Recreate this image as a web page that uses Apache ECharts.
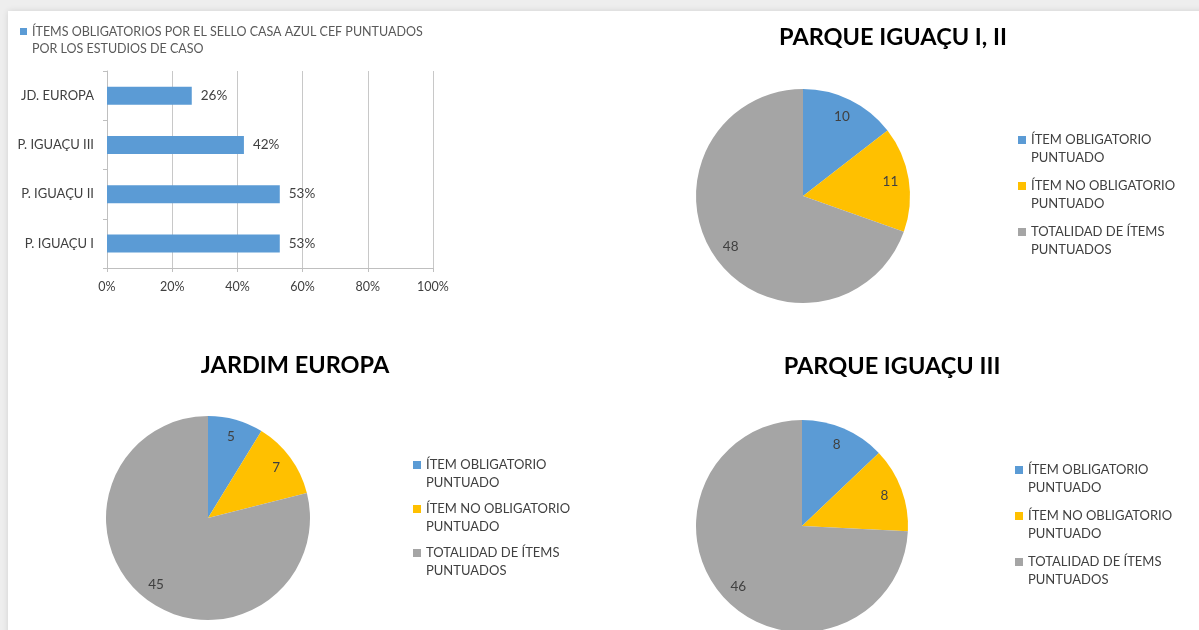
<!DOCTYPE html>
<html>
<head>
<meta charset="utf-8">
<script src="https://cdn.jsdelivr.net/npm/echarts@6/dist/echarts.min.js"></script>
<style>
  html, body { margin: 0; padding: 0; background: #eeeeee; }
  #chart_view { width: 1199px; height: 630px; }
</style>
</head>
<body>
<div id="chart_view"></div>
<script>
// bar chart data (bottom to top, as the category axis draws them)
var barCategories = ['P. IGUAÇU I', 'P. IGUAÇU II', 'P. IGUAÇU III', 'JD. EUROPA'];
var barValues = [53, 53, 42, 26];
var barSeriesName = 'ÍTEMS OBLIGATORIOS POR EL SELLO CASA AZUL CEF PUNTUADOS POR LOS ESTUDIOS DE CASO';
var barLegendLines = ['ÍTEMS OBLIGATORIOS POR EL SELLO CASA AZUL CEF PUNTUADOS', 'POR LOS ESTUDIOS DE CASO'];
var pctTicks = [0, 20, 40, 60, 80, 100];

// pie charts
var sliceNames = ['ÍTEM OBLIGATORIO PUNTUADO', 'ÍTEM NO OBLIGATORIO PUNTUADO', 'TOTALIDAD DE ÍTEMS PUNTUADOS'];
var sliceLegendLines = [
    ['ÍTEM OBLIGATORIO', 'PUNTUADO'],
    ['ÍTEM NO OBLIGATORIO', 'PUNTUADO'],
    ['TOTALIDAD DE ÍTEMS', 'PUNTUADOS']
];
var sliceColors = ['#5b9bd5', '#ffc000', '#a5a5a5'];
var parqueIguacuI_II = [10, 11, 48];
var jardimEuropa = [5, 7, 45];
var parqueIguacuIII = [8, 8, 46];

var FONT = 'Lato, "Open Sans", sans-serif';
var TXT = '#404040';

var myChart = echarts.init(document.getElementById('chart_view'));

// legend text is centred on the icon, so a blank first line puts
// the icon next to the first real line, as in the original
function twoLines(lines) {
    return ' \n' + lines[0] + '\n' + lines[1];
}

function pieData(values) {
    return values.map(function (v, i) {
        return { name: sliceNames[i], value: v, itemStyle: { color: sliceColors[i] } };
    });
}

// one pie drawn plain, plus a see-through ring on top that carries the value labels
function pieSeries(values, cx, cy, r) {
    return [
        {
            type: 'pie', center: [cx, cy], radius: [0, r],
            startAngle: 90, clockwise: true, silent: true,
            label: { show: false }, labelLine: { show: false },
            data: pieData(values)
        },
        {
            type: 'pie', center: [cx, cy], radius: [Math.round(r * 0.6), r],
            startAngle: 90, clockwise: true, silent: true,
            itemStyle: { color: 'rgba(0,0,0,0)' },
            label: { show: true, position: 'inside', formatter: '{c}', color: TXT, fontFamily: FONT, fontSize: 13.5 },
            labelLine: { show: false },
            data: values.map(function (v, i) { return { name: sliceNames[i], value: v }; })
        }
    ];
}

function pieLegend(left, top, gap) {
    return {
        orient: 'vertical', left: left, top: top, padding: 0,
        itemGap: gap, itemWidth: 8, itemHeight: 8, icon: 'rect',
        selectedMode: false,
        data: sliceNames,
        formatter: function (name) { return twoLines(sliceLegendLines[sliceNames.indexOf(name)]); },
        textStyle: { color: TXT, fontFamily: FONT, fontSize: 13, lineHeight: 18 }
    };
}

function pieTitle(text, cx, top) {
    return {
        text: text, left: cx, top: top, textAlign: 'center', padding: 0,
        textStyle: { fontFamily: FONT, fontWeight: 'bold', fontSize: 23.5, color: '#000000' }
    };
}

var option = {
    backgroundColor: '#eeeeee',
    animation: false,
    graphic: [{
        type: 'rect', z: -100, silent: true,
        shape: { x: 8, y: 11, width: 1200, height: 630 },
        style: { fill: '#ffffff', shadowBlur: 6, shadowColor: 'rgba(0,0,0,0.12)' }
    }],
    title: [
        pieTitle('PARQUE IGUAÇU I, II', 893, 25),
        pieTitle('JARDIM EUROPA', 295, 353),
        pieTitle('PARQUE IGUAÇU III', 892, 354)
    ],
    legend: [
        {
            left: 20, top: 6, padding: 0, itemWidth: 7, itemHeight: 7, icon: 'rect',
            selectedMode: false,
            data: [barSeriesName],
            formatter: function () { return twoLines(barLegendLines); },
            textStyle: { color: '#595959', fontFamily: FONT, fontSize: 12.5, lineHeight: 17 }
        },
        pieLegend(1018, 113, -8),
        pieLegend(413, 438, -10),
        pieLegend(1015, 443, -8)
    ],
    grid: { left: 107, top: 71, width: 326, height: 197 },
    xAxis: {
        type: 'value', min: 0, max: 100, interval: 20,
        axisLine: { show: true, lineStyle: { color: '#bfbfbf' } },
        axisTick: { show: true, length: 4, lineStyle: { color: '#bfbfbf' } },
        splitLine: { show: true, lineStyle: { color: '#c8c8c8' } },
        axisLabel: {
            margin: 12, color: TXT, fontFamily: FONT, fontSize: 12.5,
            formatter: function (v) { return pctTicks.indexOf(v) >= 0 ? v + '%' : ''; }
        }
    },
    yAxis: {
        type: 'category', data: barCategories,
        axisLine: { show: true, lineStyle: { color: '#bfbfbf' } },
        axisTick: { show: true, length: 4, lineStyle: { color: '#bfbfbf' } },
        axisLabel: { margin: 13, color: TXT, fontFamily: FONT, fontSize: 13 }
    },
    series: [
        {
            name: barSeriesName, type: 'bar', data: barValues, barWidth: 18,
            itemStyle: { color: '#5b9bd5' },
            label: { show: true, position: 'right', distance: 9, formatter: '{c}%', color: TXT, fontFamily: FONT, fontSize: 13.5 }
        }
    ]
        .concat(pieSeries(parqueIguacuI_II, 803, 196, 107))
        .concat(pieSeries(jardimEuropa, 208, 518, 102))
        .concat(pieSeries(parqueIguacuIII, 802, 526, 106))
};

myChart.setOption(option);
</script>
</body>
</html>
